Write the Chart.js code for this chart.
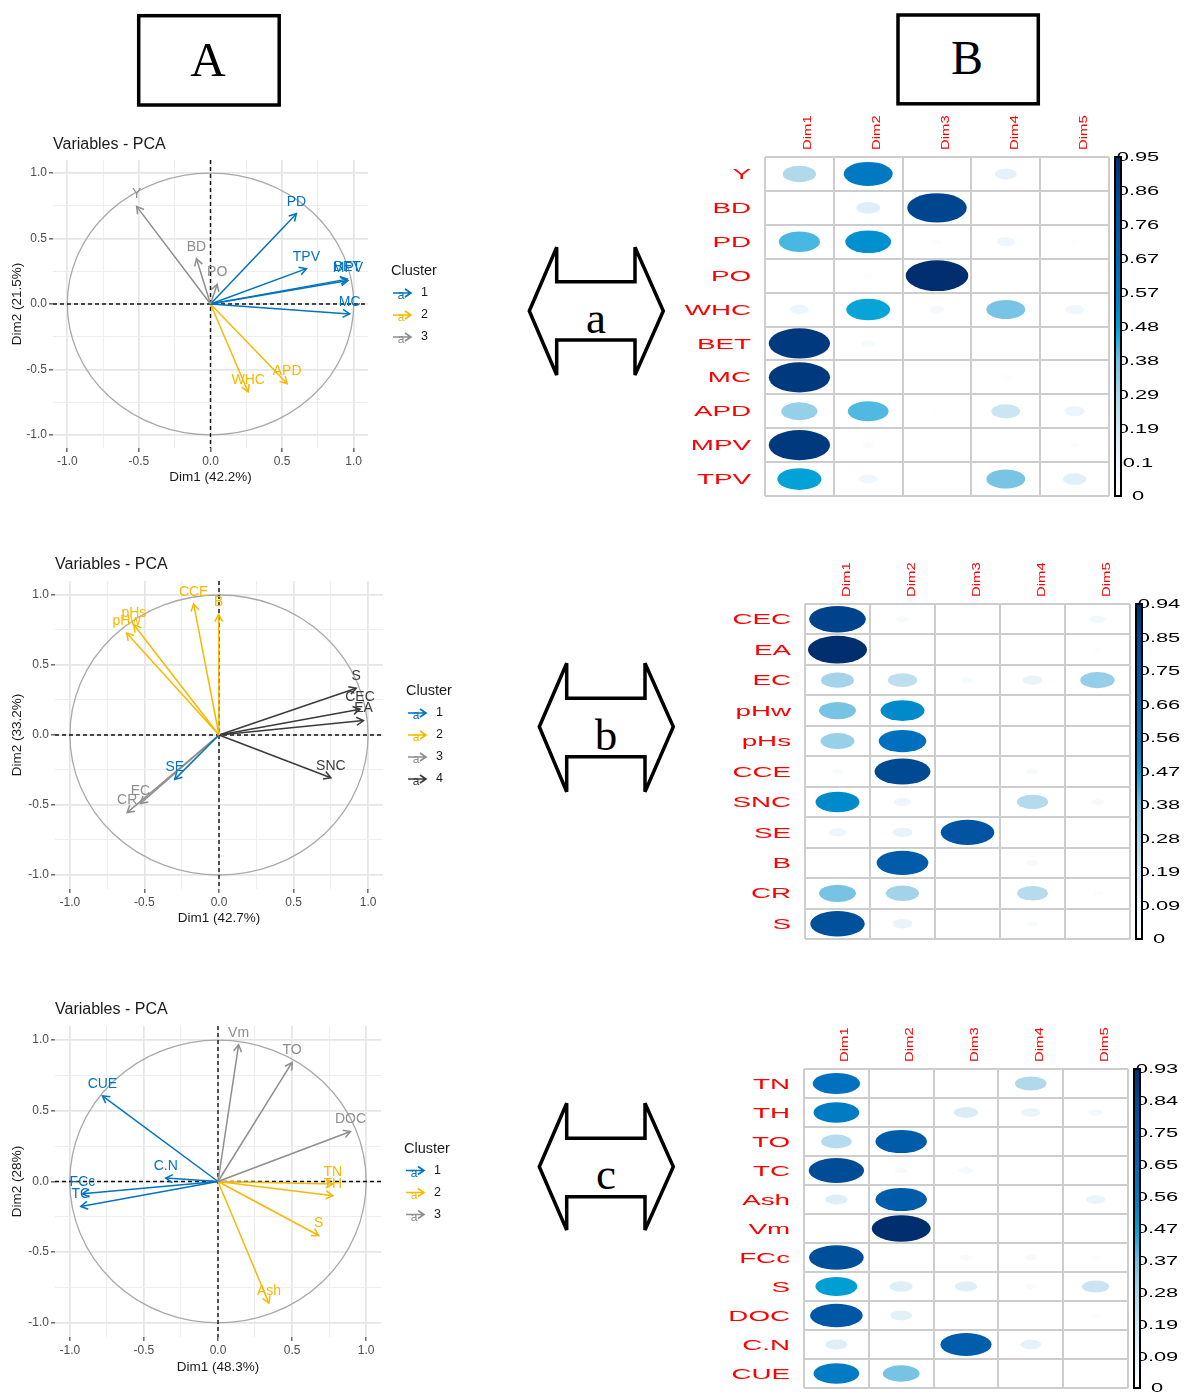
<!DOCTYPE html>
<html>
<head>
<meta charset="utf-8">
<script src="https://cdn.jsdelivr.net/npm/chart.js@4.4.1/dist/chart.umd.min.js"></script>
<style>
  html, body { margin: 0; padding: 0; background: #fff; }
  #page { position: relative; width: 1184px; height: 1394px; overflow: hidden; background: #fff; }
  #page canvas { position: absolute; display: block; }
  #deco { position: absolute; left: 0; top: 0; }
</style>
</head>
<body>
<div id="page">
  <svg id="deco" width="1184" height="1394" xmlns="http://www.w3.org/2000/svg">
    <g fill="none" stroke="#000" stroke-width="3.5" stroke-linejoin="miter">
      <rect x="138.7" y="15.7" width="140.5" height="89.3"/>
      <rect x="898" y="15" width="140.3" height="88.8"/>
      <polygon points="529.3,311 556.7,247.3 556.7,281.7 635,281.7 635,247.3 663.3,311 635,375 635,340 556.7,340 556.7,375"/>
      <polygon points="539.3,726.7 566.7,663.3 566.7,698.3 645,698.3 645,663.3 673.3,726.7 645,791.7 645,756.7 566.7,756.7 566.7,791.7"/>
      <polygon points="539.3,1166.7 566.7,1103.3 566.7,1138.3 645,1138.3 645,1103.3 673.3,1166.7 645,1230 645,1196.7 566.7,1196.7 566.7,1230"/>
    </g>
    <g font-family="'Liberation Serif', 'DejaVu Serif', serif" fill="#000" text-anchor="middle">
      <text x="208" y="76" font-size="49">A</text>
      <text x="967" y="73.5" font-size="48">B</text>
      <text x="596" y="333" font-size="45">a</text>
      <text x="606" y="750" font-size="45">b</text>
      <text x="606" y="1189" font-size="45">c</text>
    </g>
  </svg>
  <canvas id="pcaA"></canvas>
  <canvas id="pcaB"></canvas>
  <canvas id="pcaC"></canvas>
  <canvas id="corA"></canvas>
  <canvas id="corB"></canvas>
  <canvas id="corC"></canvas>
</div>

<script>
// ---------- (a) physical properties: variable coordinates on Dim1 / Dim2 ----------
const pcaA_vars    = ['Y', 'BD', 'PO', 'PD', 'TPV', 'BET', 'MPV', 'MC', 'APD', 'WHC'];
const pcaA_dim1    = [-0.516, -0.098, 0.047, 0.600, 0.670, 0.955, 0.960, 0.972, 0.535, 0.263];
const pcaA_dim2    = [0.746, 0.346, 0.150, 0.690, 0.270, 0.190, 0.180, -0.076, -0.608, -0.672];
const pcaA_cluster = [3, 3, 3, 1, 1, 1, 1, 1, 2, 2];

// ---------- (b) chemical properties ----------
const pcaB_vars    = ['CCE', 'B', 'pHs', 'pHw', 'S', 'CEC', 'EA', 'SNC', 'SE', 'EC', 'CR'];
const pcaB_dim1    = [-0.170, -0.002, -0.571, -0.620, 0.920, 0.946, 0.969, 0.750, -0.297, -0.527, -0.616];
const pcaB_dim2    = [0.936, 0.860, 0.788, 0.728, 0.334, 0.184, 0.103, -0.305, -0.317, -0.489, -0.554];
const pcaB_cluster = [2, 2, 2, 2, 4, 4, 4, 4, 1, 3, 3];

// ---------- (c) carbon / nitrogen properties ----------
const pcaC_vars    = ['Vm', 'TO', 'DOC', 'CUE', 'C.N', 'FCc', 'TC', 'TN', 'TH', 'S', 'Ash'];
const pcaC_dim1    = [0.139, 0.500, 0.894, -0.780, -0.353, -0.915, -0.926, 0.775, 0.775, 0.680, 0.344];
const pcaC_dim2    = [0.967, 0.842, 0.354, 0.606, 0.024, -0.087, -0.177, -0.017, -0.101, -0.382, -0.861];
const pcaC_cluster = [3, 3, 3, 1, 1, 1, 1, 2, 2, 2, 2];

// ---------- quality of representation (cos2) per dimension ----------
const dims = ['Dim1', 'Dim2', 'Dim3', 'Dim4', 'Dim5'];

const cosA_rows = ['Y', 'BD', 'PD', 'PO', 'WHC', 'BET', 'MC', 'APD', 'MPV', 'TPV'];
const cosA_dim1 = [0.27, 0.003, 0.41, 0.003, 0.088, 0.91, 0.91, 0.317, 0.91, 0.473];
const cosA_dim2 = [0.58, 0.14, 0.51, 0.024, 0.466, 0.043, 0.006, 0.405, 0.033, 0.082];
const cosA_dim3 = [0.011, 0.86, 0.024, 0.95, 0.055, 0.006, 0.006, 0.017, 0.006, 0.006];
const cosA_dim4 = [0.12, 0.004, 0.08, 0.003, 0.366, 0.004, 0.024, 0.20, 0.003, 0.366];
const cosA_dim5 = [0.003, 0.003, 0.017, 0.003, 0.082, 0.004, 0.006, 0.098, 0.024, 0.133];
const cosA_bar  = ['0.95', '0.86', '0.76', '0.67', '0.57', '0.48', '0.38', '0.29', '0.19', '0.1', '0'];

const cosB_rows = ['CEC', 'EA', 'EC', 'pHw', 'pHs', 'CCE', 'SNC', 'SE', 'B', 'CR', 'S'];
const cosB_dim1 = [0.86, 0.94, 0.29, 0.367, 0.31, 0.034, 0.52, 0.084, 0.006, 0.367, 0.80];
const cosB_dim2 = [0.044, 0.011, 0.23, 0.52, 0.61, 0.84, 0.084, 0.107, 0.72, 0.295, 0.107];
const cosB_dim3 = [0.006, 0.003, 0.044, 0.003, 0.006, 0.006, 0.003, 0.77, 0.006, 0.004, 0.003];
const cosB_dim4 = [0.006, 0.004, 0.107, 0.004, 0.006, 0.044, 0.26, 0.003, 0.044, 0.256, 0.034];
const cosB_dim5 = [0.07, 0.017, 0.318, 0.003, 0.003, 0.006, 0.044, 0.004, 0.011, 0.025, 0.006];
const cosB_bar  = ['0.94', '0.85', '0.75', '0.66', '0.56', '0.47', '0.38', '0.28', '0.19', '0.09', '0'];

const cosC_rows = ['TN', 'TH', 'TO', 'TC', 'Ash', 'Vm', 'FCc', 'S', 'DOC', 'C.N', 'CUE'];
const cosC_dim1 = [0.60, 0.56, 0.253, 0.82, 0.135, 0.011, 0.80, 0.47, 0.74, 0.135, 0.56];
const cosC_dim2 = [0.006, 0.006, 0.71, 0.044, 0.71, 0.93, 0.006, 0.142, 0.127, 0.006, 0.363];
const cosC_dim3 = [0.006, 0.155, 0.006, 0.056, 0.003, 0.006, 0.044, 0.135, 0.006, 0.70, 0.006];
const cosC_dim4 = [0.264, 0.099, 0.004, 0.011, 0.004, 0.006, 0.044, 0.034, 0.006, 0.116, 0.006];
const cosC_dim5 = [0.006, 0.056, 0.006, 0.006, 0.099, 0.006, 0.025, 0.2, 0.017, 0.004, 0.006];
const cosC_bar  = ['0.93', '0.84', '0.75', '0.65', '0.56', '0.47', '0.37', '0.28', '0.19', '0.09', '0'];

// ---------- styling ----------
const FONT = '"Liberation Sans", Arial, Helvetica, sans-serif';
Chart.defaults.font.family = FONT;
const CLUSTER_COLORS = { 1: '#0073C2', 2: '#F7B801', 3: '#8E8E8E', 4: '#3A3A3A' };

// white -> sky -> cyan -> navy ramp for cos2
const RAMP = [
  [0.00, [255, 255, 255]], [0.10, [236, 245, 251]], [0.20, [208, 231, 244]],
  [0.30, [170, 214, 235]], [0.40, [112, 193, 227]], [0.47, [25, 172, 221]],
  [0.50, [0, 160, 214]],   [0.57, [0, 130, 200]],   [0.65, [0, 112, 190]],
  [0.76, [0, 92, 170]],    [0.88, [0, 76, 152]],    [1.00, [0, 46, 110]]
];
function rampColor(t) {
  t = Math.max(0, Math.min(1, t));
  for (let i = 1; i < RAMP.length; i++) {
    if (t <= RAMP[i][0]) {
      const [t0, c0] = RAMP[i - 1], [t1, c1] = RAMP[i];
      const f = (t - t0) / (t1 - t0);
      return 'rgb(' + c0.map((c, k) => Math.round(c + (c1[k] - c) * f)).join(',') + ')';
    }
  }
  return 'rgb(0,46,110)';
}

function placeCanvas(id, box) {
  const cv = document.getElementById(id);
  cv.width = box.w; cv.height = box.h;
  cv.style.left = box.x + 'px'; cv.style.top = box.y + 'px';
  cv.style.width = box.w + 'px'; cv.style.height = box.h + 'px';
  return cv;
}

// ---------- variable-correlation circle ----------
const pcaPlugin = {
  id: 'pcaDecor',
  beforeDatasetsDraw(chart) {
    const { ctx, chartArea: a, scales: { x, y } } = chart;
    const cx = x.getPixelForValue(0), cy = y.getPixelForValue(0);
    const rx = x.getPixelForValue(1) - cx, ry = cy - y.getPixelForValue(1);
    ctx.save();
    ctx.strokeStyle = '#A9A9A9'; ctx.lineWidth = 1.3;
    ctx.beginPath(); ctx.ellipse(cx, cy, rx, ry, 0, 0, Math.PI * 2); ctx.stroke();
    ctx.strokeStyle = '#111'; ctx.lineWidth = 1.4; ctx.setLineDash([4, 3]);
    ctx.beginPath();
    ctx.moveTo(a.left, cy); ctx.lineTo(a.right, cy);
    ctx.moveTo(cx, a.top); ctx.lineTo(cx, a.bottom);
    ctx.stroke();
    ctx.restore();
  },
  afterDatasetsDraw(chart) {
    const { ctx } = chart;
    ctx.save();
    chart.data.datasets.forEach((ds, i) => {
      const meta = chart.getDatasetMeta(i);
      const p0 = meta.data[0], p1 = meta.data[1];
      const ang = Math.atan2(p1.y - p0.y, p1.x - p0.x);
      const L = 8, phi = Math.PI / 6;
      ctx.strokeStyle = ds.borderColor; ctx.lineWidth = 1.5;
      ctx.beginPath();
      ctx.moveTo(p1.x - L * Math.cos(ang - phi), p1.y - L * Math.sin(ang - phi));
      ctx.lineTo(p1.x, p1.y);
      ctx.lineTo(p1.x - L * Math.cos(ang + phi), p1.y - L * Math.sin(ang + phi));
      ctx.stroke();
      ctx.fillStyle = ds.borderColor;
      ctx.font = '14px ' + FONT;
      ctx.textAlign = 'center'; ctx.textBaseline = 'middle';
      ctx.fillText(ds.label, p1.x, p1.y - 12);
    });
    ctx.restore();
  },
  afterDraw(chart, args, opts) {
    const { ctx, chartArea: a } = chart;
    ctx.save();
    ctx.fillStyle = '#1A1A1A';
    ctx.font = '16px ' + FONT;
    ctx.textAlign = 'left'; ctx.textBaseline = 'middle';
    ctx.fillText(opts.title, a.left, 15);

    const n = opts.nClusters;
    const lx = a.right + 23;
    const y0 = (a.top + a.bottom) / 2 - (n + 1) * 22 / 2 + 11;
    ctx.font = '14.5px ' + FONT;
    ctx.fillText('Cluster', lx, y0);
    for (let k = 1; k <= n; k++) {
      const yy = y0 + 22 * k;
      const col = CLUSTER_COLORS[k];
      ctx.strokeStyle = col; ctx.lineWidth = 1.6;
      ctx.beginPath();
      ctx.moveTo(lx + 2, yy); ctx.lineTo(lx + 20, yy);
      ctx.moveTo(lx + 14, yy - 4); ctx.lineTo(lx + 20, yy); ctx.lineTo(lx + 14, yy + 4);
      ctx.stroke();
      ctx.fillStyle = col;
      ctx.font = '12px ' + FONT;
      ctx.textAlign = 'center';
      ctx.fillText('a', lx + 10, yy + 3);
      ctx.fillStyle = '#1A1A1A';
      ctx.font = '12.5px ' + FONT;
      ctx.textAlign = 'left';
      ctx.fillText(String(k), lx + 30, yy);
    }
    ctx.restore();
  }
};

function isMajor(v) { return Math.abs(v * 2 - Math.round(v * 2)) < 1e-6; }

function makePca(id, cfg) {
  const cv = placeCanvas(id, cfg.box);
  const { box, area } = cfg;
  const datasets = cfg.vars.map((v, i) => ({
    label: v,
    data: [{ x: 0, y: 0 }, { x: cfg.d1[i], y: cfg.d2[i] }],
    borderColor: CLUSTER_COLORS[cfg.cl[i]],
    backgroundColor: CLUSTER_COLORS[cfg.cl[i]],
    borderWidth: 1.5,
    pointRadius: 0,
    showLine: true,
    fill: false
  }));
  const xAxisH = box.y + box.h - area.b;
  const yAxisW = area.l - box.x;
  const xTitlePad = (box.y + box.h) - cfg.xTitleY - 8.1;
  const axis = (title, isX, pad) => ({
    type: 'linear', min: -1.1, max: 1.1,
    border: { display: false },
    grid: {
      color: c => (c.tick && isMajor(c.tick.value)) ? '#E6E6E6' : '#EEEEEE',
      lineWidth: c => (c.tick && isMajor(c.tick.value)) ? 1.7 : 1.1,
      drawTicks: true, tickLength: 4, tickWidth: 1.1,
      tickColor: c => (c.tick && isMajor(c.tick.value)) ? '#333333' : 'rgba(0,0,0,0)'
    },
    ticks: {
      stepSize: 0.25, includeBounds: false, autoSkip: false, maxRotation: 0,
      padding: 2, color: '#4D4D4D', font: { size: 12 },
      callback: v => isMajor(v) ? Number(v).toFixed(1) : ''
    },
    title: { display: true, text: title, color: '#1A1A1A', font: { size: 13.5 }, padding: pad },
    afterFit: s => { if (isX) s.height = xAxisH; else s.width = yAxisW; }
  });
  return new Chart(cv, {
    type: 'scatter',
    data: { datasets },
    options: {
      responsive: false, animation: false, events: [],
      layout: { padding: { left: 0, top: area.t - box.y, right: box.x + box.w - area.r, bottom: 0 } },
      scales: {
        x: axis(cfg.xTitle, true, { top: 0, bottom: xTitlePad }),
        y: axis(cfg.yTitle, false, { top: 9, bottom: 0 })
      },
      plugins: {
        legend: { display: false }, tooltip: { enabled: false }, title: { display: false },
        pcaDecor: { title: 'Variables - PCA', nClusters: Math.max(...cfg.cl) }
      }
    },
    plugins: [pcaPlugin]
  });
}

// ---------- cos2 grid ----------
function drawStretched(ctx, text, x, y, sx, align) {
  ctx.save();
  ctx.translate(x, y);
  ctx.scale(sx, 1);
  ctx.textAlign = align;
  ctx.fillText(text, 0, 0);
  ctx.restore();
}

const corPlugin = {
  id: 'corDecor',
  afterDatasetsDraw(chart, args, opts) {
    const { ctx, scales: { x, y } } = chart;
    const cw = x.width / x.getLabels().length;
    const ch = y.height / y.getLabels().length;
    const meta = chart.getDatasetMeta(0);
    const data = chart.data.datasets[0].data;
    ctx.save();
    meta.data.forEach((el, i) => {
      const v = data[i].v;
      const s = Math.sqrt(v / opts.vmax);
      ctx.fillStyle = rampColor(v / opts.vmax);
      ctx.beginPath();
      ctx.ellipse(el.x, el.y, Math.max(s * 0.455 * cw, 0.5), Math.max(s * 0.455 * ch, 0.5), 0, 0, Math.PI * 2);
      ctx.fill();
    });
    ctx.restore();
  },
  afterDraw(chart, args, opts) {
    const { ctx, chartArea: a, scales: { x, y } } = chart;
    ctx.save();
    ctx.fillStyle = '#FF0000';
    ctx.textBaseline = 'middle';
    // row names
    ctx.font = '15px ' + FONT;
    y.getLabels().forEach((lab, i) => {
      drawStretched(ctx, lab, a.left - 14, y.getPixelForValue(i) + 1, 1.85, 'right');
    });
    // column names, written upward
    ctx.font = '11px ' + FONT;
    x.getLabels().forEach((lab, i) => {
      ctx.save();
      ctx.translate(x.getPixelForValue(i) + 9, a.top - 7);
      ctx.rotate(-Math.PI / 2);
      ctx.scale(1.35, 1);
      ctx.textAlign = 'left';
      ctx.fillText(lab, 0, 0);
      ctx.restore();
    });
    // colour bar with its labels
    const bx = a.right + 6, bw = 6;
    const labels = opts.barLabels;
    const nSeg = labels.length - 1;
    ctx.fillStyle = '#000';
    ctx.font = '12.5px ' + FONT;
    labels.forEach((lab, i) => {
      const yy = a.top + i * (a.bottom - a.top) / nSeg;
      drawStretched(ctx, lab, bx + bw / 2 + 20, yy + 1, 1.75, 'center');
    });
    const g = ctx.createLinearGradient(0, a.bottom, 0, a.top);
    RAMP.forEach(([t]) => g.addColorStop(t, rampColor(t)));
    ctx.fillStyle = g;
    ctx.fillRect(bx, a.top, bw, a.bottom - a.top);
    ctx.strokeStyle = '#000'; ctx.lineWidth = 2;
    ctx.strokeRect(bx, a.top, bw, a.bottom - a.top);
    ctx.restore();
  }
};

function makeCor(id, cfg) {
  const cv = placeCanvas(id, cfg.box);
  const { box, area, rows, cols } = cfg;
  const pts = [];
  rows.forEach((r, ri) => cols.forEach((c, ci) => pts.push({ x: dims[ci], y: r, v: c[ri] })));
  const cat = (labels, isX) => ({
    type: 'category', labels, offset: true,
    border: { display: false },
    grid: { offset: true, color: '#CDCDCD', lineWidth: 2, drawTicks: false },
    ticks: { display: false },
    afterFit: s => { if (isX) s.height = 0; else s.width = 0; }
  });
  return new Chart(cv, {
    type: 'scatter',
    data: { datasets: [{ data: pts, pointRadius: 0, showLine: false }] },
    options: {
      responsive: false, animation: false, events: [],
      layout: { padding: { left: area.l - box.x, top: area.t - box.y, right: box.x + box.w - area.r, bottom: box.y + box.h - area.b } },
      scales: { x: cat(dims, true), y: cat(rows, false) },
      plugins: {
        legend: { display: false }, tooltip: { enabled: false }, title: { display: false },
        corDecor: { vmax: cfg.vmax, barLabels: cfg.bar }
      }
    },
    plugins: [corPlugin]
  });
}

makePca('pcaA', {
  vars: pcaA_vars, d1: pcaA_dim1, d2: pcaA_dim2, cl: pcaA_cluster,
  xTitle: 'Dim1 (42.2%)', yTitle: 'Dim2 (21.5%)',
  box: { x: 0, y: 130, w: 470, h: 365 }, area: { l: 53, t: 160, r: 368, b: 448 }, xTitleY: 477
});
makePca('pcaB', {
  vars: pcaB_vars, d1: pcaB_dim1, d2: pcaB_dim2, cl: pcaB_cluster,
  xTitle: 'Dim1 (42.7%)', yTitle: 'Dim2 (33.2%)',
  box: { x: 0, y: 550, w: 470, h: 380 }, area: { l: 55, t: 581, r: 383, b: 889 }, xTitleY: 918
});
makePca('pcaC', {
  vars: pcaC_vars, d1: pcaC_dim1, d2: pcaC_dim2, cl: pcaC_cluster,
  xTitle: 'Dim1 (48.3%)', yTitle: 'Dim2 (28%)',
  box: { x: 0, y: 995, w: 470, h: 385 }, area: { l: 55, t: 1026, r: 381, b: 1337 }, xTitleY: 1367
});

makeCor('corA', {
  rows: cosA_rows, cols: [cosA_dim1, cosA_dim2, cosA_dim3, cosA_dim4, cosA_dim5],
  vmax: 0.95, bar: cosA_bar,
  box: { x: 680, y: 100, w: 504, h: 405 }, area: { l: 765, t: 157, r: 1109, b: 496 }
});
makeCor('corB', {
  rows: cosB_rows, cols: [cosB_dim1, cosB_dim2, cosB_dim3, cosB_dim4, cosB_dim5],
  vmax: 0.94, bar: cosB_bar,
  box: { x: 700, y: 550, w: 484, h: 400 }, area: { l: 805, t: 604, r: 1130, b: 939 }
});
makeCor('corC', {
  rows: cosC_rows, cols: [cosC_dim1, cosC_dim2, cosC_dim3, cosC_dim4, cosC_dim5],
  vmax: 0.93, bar: cosC_bar,
  box: { x: 700, y: 1020, w: 484, h: 374 }, area: { l: 804, t: 1069, r: 1128, b: 1388 }
});
</script>
</body>
</html>
